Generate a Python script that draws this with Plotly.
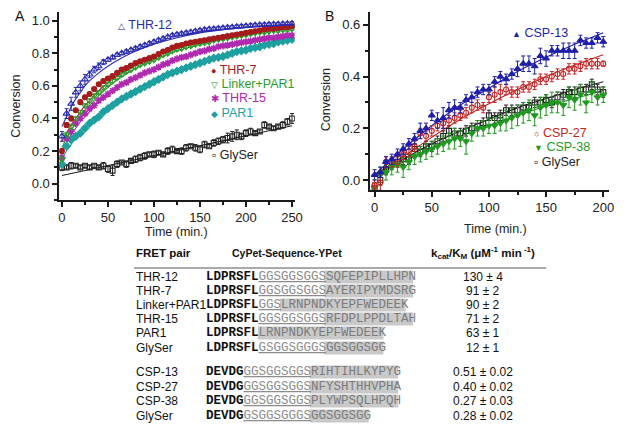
import plotly.graph_objects as go

W, H = 632, 435
SANS = "Liberation Sans, Arial, sans-serif"
MONO = "Liberation Mono, Courier New, monospace"

# ---------------- Panel A data ----------------
time_a = list(range(0, 251, 5))
thr12 = [0.29, 0.43, 0.49, 0.56, 0.60, 0.64, 0.67, 0.70, 0.72, 0.745,
         0.76, 0.775, 0.79, 0.80, 0.81, 0.82, 0.83, 0.84, 0.85, 0.86,
         0.87, 0.88, 0.89, 0.90, 0.91, 0.915, 0.92, 0.925, 0.93, 0.935,
         0.94, 0.945, 0.948, 0.95, 0.953, 0.955, 0.958, 0.96, 0.963, 0.965,
         0.967, 0.97, 0.972, 0.974, 0.975, 0.977, 0.978, 0.979, 0.98, 0.982,
         0.983]
thr12_err = [0.03, 0.03, 0.04, 0.03, 0.03, 0.03, 0.02, 0.02, 0.02, 0.015,
             0.01, 0.01, 0.01, 0.01, 0.01, 0.01, 0.01, 0.01, 0.01, 0.01,
             0.01, 0.01, 0.01, 0.01, 0.01, 0.01, 0.01, 0.01, 0.01, 0.01,
             0.01, 0.01, 0.01, 0.01, 0.01, 0.01, 0.01, 0.01, 0.01, 0.01,
             0.01, 0.01, 0.01, 0.01, 0.01, 0.01, 0.01, 0.01, 0.01, 0.01,
             0.01]
thr7 = [0.20, 0.36, 0.40, 0.45, 0.50, 0.53, 0.55, 0.58, 0.61, 0.63,
        0.645, 0.66, 0.68, 0.70, 0.71, 0.725, 0.74, 0.75, 0.76, 0.77,
        0.78, 0.795, 0.81, 0.82, 0.835, 0.845, 0.85, 0.86, 0.865, 0.87,
        0.875, 0.88, 0.885, 0.89, 0.895, 0.90, 0.905, 0.91, 0.915, 0.92,
        0.925, 0.93, 0.935, 0.94, 0.945, 0.95, 0.95, 0.955, 0.96, 0.96,
        0.965]
linker_par1 = [0.15, 0.30, 0.35, 0.40, 0.44, 0.48, 0.51, 0.54, 0.56, 0.59,
               0.61, 0.63, 0.65, 0.67, 0.69, 0.70, 0.715, 0.73, 0.74, 0.75,
               0.76, 0.775, 0.79, 0.80, 0.815, 0.825, 0.83, 0.84, 0.845, 0.855,
               0.86, 0.865, 0.87, 0.88, 0.885, 0.89, 0.895, 0.90, 0.905, 0.91,
               0.915, 0.92, 0.925, 0.93, 0.93, 0.935, 0.94, 0.94, 0.945, 0.945,
               0.95]
thr15 = [0.16, 0.28, 0.32, 0.37, 0.40, 0.43, 0.46, 0.48, 0.51, 0.53,
         0.55, 0.57, 0.59, 0.61, 0.62, 0.64, 0.65, 0.665, 0.68, 0.69,
         0.70, 0.715, 0.73, 0.74, 0.755, 0.765, 0.775, 0.78, 0.79, 0.80,
         0.81, 0.815, 0.825, 0.83, 0.84, 0.845, 0.85, 0.855, 0.86, 0.865,
         0.87, 0.875, 0.88, 0.885, 0.89, 0.895, 0.895, 0.90, 0.905, 0.91,
         0.91]
par1 = [0.12, 0.23, 0.27, 0.29, 0.31, 0.34, 0.37, 0.39, 0.41, 0.44,
        0.46, 0.48, 0.50, 0.52, 0.535, 0.55, 0.565, 0.58, 0.595, 0.61,
        0.625, 0.64, 0.655, 0.67, 0.68, 0.69, 0.70, 0.71, 0.72, 0.73,
        0.74, 0.75, 0.76, 0.77, 0.775, 0.78, 0.79, 0.80, 0.81, 0.815,
        0.82, 0.83, 0.835, 0.84, 0.85, 0.855, 0.86, 0.87, 0.875, 0.88,
        0.885]
small_err_a = [0.015, 0.015, 0.015, 0.01, 0.01, 0.01, 0.01, 0.01, 0.01, 0.01,
               0.01, 0.01, 0.01, 0.01, 0.01, 0.01, 0.01, 0.01, 0.01, 0.01,
               0.01, 0.01, 0.01, 0.01, 0.01, 0.01, 0.01, 0.01, 0.01, 0.01,
               0.01, 0.01, 0.01, 0.01, 0.01, 0.01, 0.01, 0.01, 0.01, 0.01,
               0.01, 0.01, 0.01, 0.01, 0.01, 0.01, 0.01, 0.01, 0.01, 0.01,
               0.01]
glyser_a = [0.10, 0.10, 0.11, 0.11, 0.10, 0.11, 0.10, 0.11, 0.10, 0.11,
            0.09, 0.08, 0.12, 0.13, 0.12, 0.14, 0.15, 0.16, 0.17, 0.18,
            0.18, 0.19, 0.18, 0.20, 0.21, 0.20, 0.20, 0.22, 0.23, 0.22,
            0.21, 0.24, 0.23, 0.25, 0.26, 0.27, 0.28, 0.29, 0.30, 0.29,
            0.31, 0.32, 0.31, 0.32, 0.36, 0.35, 0.34, 0.35, 0.36, 0.38,
            0.40]
glyser_a_err = [0.02, 0.01, 0.02, 0.01, 0.01, 0.01, 0.01, 0.01, 0.01, 0.02,
                0.02, 0.03, 0.02, 0.01, 0.02, 0.01, 0.02, 0.02, 0.02, 0.01,
                0.02, 0.01, 0.01, 0.02, 0.02, 0.01, 0.02, 0.02, 0.01, 0.02,
                0.02, 0.02, 0.01, 0.02, 0.02, 0.02, 0.03, 0.03, 0.03, 0.02,
                0.02, 0.02, 0.01, 0.01, 0.02, 0.01, 0.01, 0.01, 0.02, 0.02,
                0.03]

# fitted curves, panel A
fit_time_a = [0, 5, 10, 15, 20, 25, 30, 40, 50, 60, 75, 90, 100, 125, 150, 175, 200, 225, 250]
thr12_fit = [0.35, 0.41, 0.47, 0.52, 0.56, 0.60, 0.63, 0.68, 0.72, 0.755, 0.80, 0.835, 0.855, 0.895, 0.925, 0.945, 0.96, 0.97, 0.978]
thr7_fit = [0.26, 0.31, 0.36, 0.40, 0.44, 0.48, 0.51, 0.57, 0.62, 0.66, 0.71, 0.755, 0.78, 0.83, 0.87, 0.90, 0.925, 0.945, 0.96]
linker_fit = [0.22, 0.28, 0.33, 0.37, 0.41, 0.45, 0.48, 0.54, 0.59, 0.635, 0.69, 0.735, 0.76, 0.815, 0.855, 0.89, 0.915, 0.935, 0.95]
thr15_fit = [0.20, 0.25, 0.30, 0.34, 0.38, 0.41, 0.44, 0.50, 0.545, 0.585, 0.64, 0.68, 0.705, 0.76, 0.80, 0.84, 0.865, 0.89, 0.91]
par1_fit = [0.15, 0.20, 0.24, 0.28, 0.31, 0.34, 0.37, 0.42, 0.465, 0.50, 0.55, 0.60, 0.625, 0.69, 0.74, 0.785, 0.82, 0.855, 0.885]
glyser_fit_time_a = [0, 250]
glyser_a_fit = [0.05, 0.355]

# ---------------- Panel B data ----------------
time_b = list(range(0, 201, 5))
csp13 = [0.02, 0.03, 0.07, 0.08, 0.10, 0.12, 0.14, 0.16, 0.19, 0.20,
         0.25, 0.23, 0.24, 0.27, 0.28, 0.28, 0.31, 0.32, 0.34, 0.35,
         0.35, 0.38, 0.40, 0.39, 0.41, 0.43, 0.45, 0.45, 0.44, 0.48,
         0.47, 0.50, 0.50, 0.50, 0.50, 0.50, 0.54, 0.53, 0.53, 0.55,
         0.535]
csp13_err = [0.02, 0.02, 0.02, 0.02, 0.02, 0.02, 0.02, 0.02, 0.03, 0.02,
             0.02, 0.03, 0.04, 0.03, 0.03, 0.02, 0.02, 0.02, 0.02, 0.02,
             0.02, 0.02, 0.02, 0.02, 0.02, 0.03, 0.03, 0.03, 0.03, 0.03,
             0.03, 0.02, 0.02, 0.03, 0.03, 0.03, 0.02, 0.02, 0.02, 0.02,
             0.02]
csp27 = [-0.02, -0.01, 0.07, 0.07, 0.07, 0.10, 0.11, 0.13, 0.18, 0.17,
         0.19, 0.21, 0.22, 0.23, 0.24, 0.25, 0.26, 0.28, 0.29, 0.28,
         0.32, 0.33, 0.34, 0.35, 0.34, 0.34, 0.36, 0.36, 0.37, 0.39,
         0.39, 0.40, 0.41, 0.41, 0.43, 0.43, 0.44, 0.45, 0.45, 0.45,
         0.45]
csp27_err = [0.02, 0.03, 0.02, 0.02, 0.02, 0.02, 0.02, 0.02, 0.02, 0.02,
             0.02, 0.02, 0.02, 0.02, 0.02, 0.02, 0.02, 0.02, 0.02, 0.02,
             0.02, 0.03, 0.03, 0.02, 0.02, 0.02, 0.02, 0.02, 0.02, 0.02,
             0.02, 0.02, 0.02, 0.02, 0.02, 0.02, 0.02, 0.02, 0.02, 0.02,
             0.01]
csp38 = [-0.03, 0.02, 0.03, 0.05, 0.06, 0.05, 0.07, 0.09, 0.10, 0.11,
         0.12, 0.13, 0.14, 0.15, 0.16, 0.16, 0.15, 0.18, 0.20, 0.20,
         0.21, 0.21, 0.22, 0.23, 0.24, 0.25, 0.26, 0.27, 0.25, 0.28,
         0.29, 0.30, 0.30, 0.29, 0.32, 0.31, 0.33, 0.30, 0.34, 0.32,
         0.33]
csp38_err = [0.02, 0.03, 0.03, 0.03, 0.03, 0.04, 0.03, 0.03, 0.03, 0.03,
             0.03, 0.03, 0.03, 0.03, 0.04, 0.03, 0.05, 0.03, 0.03, 0.03,
             0.03, 0.03, 0.03, 0.04, 0.04, 0.04, 0.04, 0.04, 0.04, 0.04,
             0.04, 0.04, 0.04, 0.04, 0.04, 0.04, 0.04, 0.04, 0.04, 0.03,
             0.03]
glyser_b = [-0.03, 0.00, 0.04, 0.06, 0.07, 0.08, 0.08, 0.12, 0.11, 0.13,
            0.13, 0.15, 0.17, 0.19, 0.18, 0.18, 0.19, 0.20, 0.21, 0.22,
            0.25, 0.24, 0.25, 0.27, 0.27, 0.27, 0.28, 0.28, 0.30, 0.30,
            0.31, 0.30, 0.32, 0.33, 0.34, 0.34, 0.35, 0.35, 0.37, 0.35,
            0.34]
glyser_b_err = [0.02, 0.02, 0.02, 0.02, 0.02, 0.02, 0.02, 0.02, 0.02, 0.02,
                0.02, 0.02, 0.02, 0.02, 0.02, 0.02, 0.02, 0.02, 0.02, 0.02,
                0.02, 0.02, 0.02, 0.02, 0.02, 0.02, 0.02, 0.02, 0.02, 0.02,
                0.02, 0.02, 0.02, 0.02, 0.02, 0.02, 0.02, 0.02, 0.02, 0.02,
                0.02]

fit_time_b = [0, 25, 50, 75, 100, 125, 150, 175, 200]
csp13_fit = [0.02, 0.12, 0.21, 0.29, 0.355, 0.42, 0.475, 0.525, 0.57]
csp27_fit = [0.02, 0.09, 0.165, 0.235, 0.295, 0.35, 0.40, 0.445, 0.485]
csp38_fit = [0.02, 0.07, 0.125, 0.17, 0.21, 0.25, 0.285, 0.315, 0.345]
glyser_b_fit = [0.02, 0.08, 0.14, 0.19, 0.235, 0.28, 0.315, 0.35, 0.38]

# ---------------- Table data ----------------
table_names = ["THR-12", "THR-7", "Linker+PAR1", "THR-15", "PAR1", "GlySer",
               "CSP-13", "CSP-27", "CSP-38", "GlySer"]
seq_prefix = ["LDPRSFL", "LDPRSFL", "LDPRSFL", "LDPRSFL", "LDPRSFL", "LDPRSFL",
              "DEVDG", "DEVDG", "DEVDG", "DEVDG"]
seq_linker = ["GGSGGSGGS", "GGSGGSGGS", "GGS", "GGSGGSGGS", "", "GSGGSGGGS",
              "GGSGGSGGS", "GGSGGSGGS", "GGSGGSGGS", "GSGGSGGGS"]
seq_core = ["SQFEPIPLLHPN", "AYERIPYMDSRG", "LRNPNDKYEPFWEDEEK", "RFDPLPPDLTAH",
            "LRNPNDKYEPFWEDEEK", "GGSGGSGG", "RIHTIHLKYPYG", "NFYSHTHHVPHA",
            "PLYWPSQLHPQH", "GGSGGSGG"]
kcat_km = ["130 ± 4", "91 ± 2", "90 ± 2", "71 ± 2", "63 ± 1", "12 ± 1",
           "0.51 ± 0.02", "0.40 ± 0.02", "0.27 ± 0.03", "0.28 ± 0.02"]

# ---------------- styling ----------------
C_BLUE = "#2b2bb0"
C_RED = "#a51c1c"
C_GREEN = "#2c9c2c"
C_MAG = "#b02ab0"
C_TEAL = "#1fa0a0"
C_BLACK = "#222222"
C_BLUE_B = "#1e1eaa"
C_RED_B = "#c42424"
C_GREEN_B = "#1f9a1f"


def px(x):
    return x / W


def py(y):
    return 1 - y / H


fig = go.Figure()


def add_fit(xs, ys, color, xa, ya, shape="spline"):
    fig.add_trace(go.Scatter(x=xs, y=ys, mode="lines", xaxis=xa, yaxis=ya,
                             line=dict(color=color, width=1.1, shape=shape),
                             showlegend=False, hoverinfo="skip"))


def add_pts(xs, ys, err, color, symbol, xa, ya, size=5, lw=1.1):
    fig.add_trace(go.Scatter(x=xs, y=ys, mode="markers", xaxis=xa, yaxis=ya,
                             marker=dict(symbol=symbol, size=size, color=color,
                                         line=dict(color=color, width=lw)),
                             error_y=dict(type="data", array=err, color=color,
                                          thickness=1, width=2),
                             showlegend=False))


# Panel A
add_fit(fit_time_a, thr12_fit, C_BLUE, "x", "y")
add_fit(fit_time_a, thr7_fit, C_RED, "x", "y")
add_fit(fit_time_a, linker_fit, C_GREEN, "x", "y")
add_fit(fit_time_a, thr15_fit, C_MAG, "x", "y")
add_fit(fit_time_a, par1_fit, C_TEAL, "x", "y")
add_fit(glyser_fit_time_a, glyser_a_fit, C_BLACK, "x", "y", shape="linear")
add_pts(time_a, glyser_a, glyser_a_err, C_BLACK, "square-open", "x", "y", size=5)
add_pts(time_a, par1, small_err_a, C_TEAL, "diamond", "x", "y", size=6)
add_pts(time_a, thr15, small_err_a, C_MAG, "asterisk-open", "x", "y", size=6, lw=1.6)
add_pts(time_a, linker_par1, small_err_a, C_GREEN, "triangle-down-open", "x", "y", size=6)
add_pts(time_a, thr7, small_err_a, C_RED, "circle", "x", "y", size=5)
add_pts(time_a, thr12, thr12_err, C_BLUE, "triangle-up-open", "x", "y", size=6)

# Panel B
add_fit(fit_time_b, csp13_fit, C_BLUE_B, "x2", "y2")
add_fit(fit_time_b, csp27_fit, C_RED_B, "x2", "y2")
add_fit(fit_time_b, csp38_fit, C_GREEN_B, "x2", "y2")
add_fit(fit_time_b, glyser_b_fit, C_BLACK, "x2", "y2")
add_pts(time_b, glyser_b, glyser_b_err, C_BLACK, "square-open", "x2", "y2", size=5)
add_pts(time_b, csp38, csp38_err, C_GREEN_B, "triangle-down", "x2", "y2", size=6)
add_pts(time_b, csp27, csp27_err, C_RED_B, "circle-open", "x2", "y2", size=5)
add_pts(time_b, csp13, csp13_err, C_BLUE_B, "triangle-up", "x2", "y2", size=6)

axis_common = dict(showline=True, linecolor="#1a1a1a", linewidth=1.5,
                   ticks="outside", ticklen=5, tickwidth=1.5, tickcolor="#1a1a1a",
                   showgrid=False, zeroline=False, fixedrange=True,
                   tickfont=dict(family=SANS, size=13, color="#222222"))


def minor(d):
    return dict(ticks="outside", ticklen=3, tickwidth=1.5, tickcolor="#1a1a1a",
                dtick=d, showgrid=False)


fig.update_layout(
    width=W, height=H,
    margin=dict(l=0, r=0, t=0, b=0),
    paper_bgcolor="white", plot_bgcolor="white",
    showlegend=False,
    xaxis=dict(domain=[px(59), px(298)], range=[-3, 253], anchor="y",
               tick0=0, dtick=50, minor=minor(25), **axis_common),
    yaxis=dict(domain=[py(200), py(12)], range=[-0.1, 1.053], anchor="x",
               tick0=0, dtick=0.2, tickformat=".1f", minor=minor(0.1), **axis_common),
    xaxis2=dict(domain=[px(374), px(617)], range=[-4.3, 205.2], anchor="y2",
                tick0=0, dtick=50, minor=minor(25), **axis_common),
    yaxis2=dict(domain=[py(190), py(12)], range=[-0.0387, 0.650], anchor="x2",
                tick0=0, dtick=0.2, tickformat=".1f", minor=minor(0.1), **axis_common),
)

ann = []


def text(x, y, s, size=12.5, color="#111111", xanchor="left", family=SANS,
         textangle=0):
    ann.append(dict(x=px(x), y=py(y), xref="paper", yref="paper", text=s,
                    showarrow=False, xanchor=xanchor, yanchor="middle",
                    font=dict(family=family, size=size, color=color),
                    borderpad=0, borderwidth=0, textangle=textangle))


# panel letters and axis titles
text(19, 16, "A", size=14, xanchor="center")
text(333, 16, "B", size=14, xanchor="center")
text(178, 232, "Time (min.)", size=12.5, xanchor="center", color="#222222")
text(502, 229, "Time (min.)", size=12.5, xanchor="center", color="#222222")
text(15, 106, "Conversion", size=12.5, xanchor="center", color="#222222", textangle=-90)
text(330, 100, "Conversion", size=12.5, xanchor="center", color="#222222", textangle=-90)

# in-plot legends
legend_items = [
    (119, 25, "△", 9, "THR-12", C_BLUE),
    (213, 70, "●", 9, "THR-7", C_RED),
    (213, 84, "▽", 9, "Linker+PAR1", C_GREEN),
    (213, 98, "✱", 10, "THR-15", C_MAG),
    (213, 113, "◆", 9, "PAR1", C_TEAL),
    (214, 155, "▫", 12, "GlySer", C_BLACK),
    (518, 33, "▲", 9, "CSP-13", C_BLUE_B),
    (541, 133, "○", 9, "CSP-27", C_RED_B),
    (541, 147, "▼", 9, "CSP-38", C_GREEN_B),
    (541, 162, "▫", 12, "GlySer", C_BLACK),
]
for lx, ly, glyph, gs, label, col in legend_items:
    text(lx, ly, f"<span style='font-size:{gs}px'>{glyph}</span> {label}",
         size=12.5, color=col)

# table
shapes = []
CH = 7.5           # mono char width at 12.5 px
SEQ_X = 208
NAME_X = 137
KCAT_X = 489
row_y = [277, 291, 305, 319, 333, 348, 372, 387, 401, 416]

text(NAME_X, 253, "<b>FRET pair</b>", size=11.5)
text(290, 253, "<b>CyPet-Sequence-YPet</b>", size=10.5, xanchor="center")
text(KCAT_X, 253, "<b>k<sub>cat</sub>/K<sub>M</sub> (μM<sup>-1</sup> min<sup> -1</sup>)</b>",
     size=11.5, xanchor="center")
shapes.append(dict(type="line", xref="paper", yref="paper", x0=px(135), x1=px(553),
                   y0=py(268), y1=py(268), line=dict(color="#555555", width=1)))

for i, yv in enumerate(row_y):
    pre, lk, core = seq_prefix[i], seq_linker[i], seq_core[i]
    text(NAME_X, yv, table_names[i], size=12)
    s = f"<b>{pre}</b>"
    if lk:
        s += f"<span style='color:#8c8c8c'><u>{lk}</u></span>"
    s += f"<span style='color:#7c7c7c'>{core}</span>"
    text(SEQ_X, yv, s, size=12.5, family=MONO)
    x0 = SEQ_X + CH * (len(pre) + len(lk))
    x1 = x0 + CH * len(core)
    shapes.append(dict(type="rect", xref="paper", yref="paper", layer="below",
                       x0=px(x0), x1=px(x1), y0=py(yv + 6.5), y1=py(yv - 6.5),
                       fillcolor="#c9c9c9", line=dict(width=0)))
    text(KCAT_X, yv, kcat_km[i], size=12, xanchor="center")

fig.update_layout(annotations=ann, shapes=shapes)
fig.write_html(
    "out.html",
    config={"displayModeBar": False},
    post_script="document.body.style.margin='0px';document.body.style.padding='0px';"
                "document.body.style.overflow='hidden';",
)
